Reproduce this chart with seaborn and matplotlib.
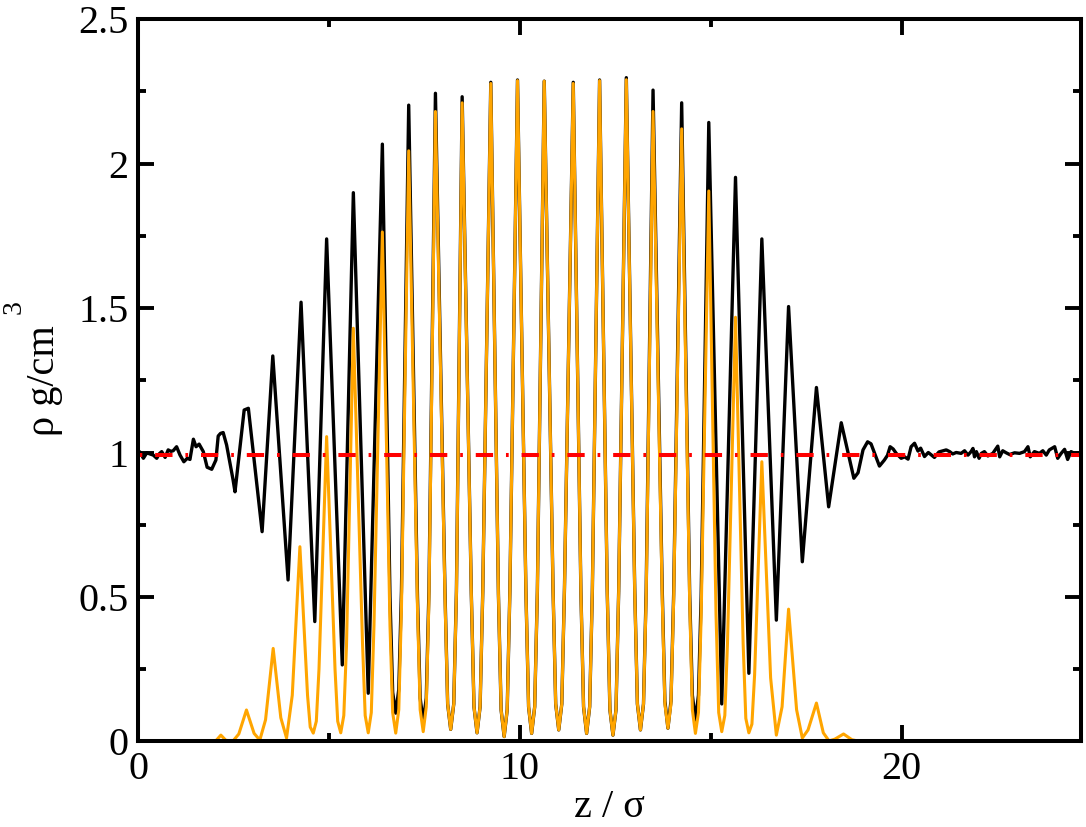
import pandas as pd
import seaborn as sns
import matplotlib.pyplot as plt
from matplotlib.ticker import MultipleLocator, FuncFormatter

# density profile across the slab
# total density (black)
black_left_z = [0.00, 0.05, 0.14, 0.23, 0.31, 0.40, 0.49, 0.56, 0.62, 0.71, 0.79,
                0.86, 0.92, 1.01, 1.10, 1.20, 1.29, 1.36, 1.45, 1.52, 1.60, 1.71]
black_left_rho = [1.000, 1.002, 0.980, 0.999, 0.995, 0.991, 0.980, 0.996, 1.003, 0.983, 1.009,
                  1.004, 1.006, 1.020, 0.991, 0.968, 0.980, 0.976, 1.046, 1.020, 1.029, 1.003]

black_layers_z = [1.81, 1.93, 2.04, 2.10, 2.16, 2.23, 2.32, 2.49, 2.54, 2.78, 2.89,
                  3.25, 3.53, 3.93, 4.27, 4.63, 4.94, 5.35, 5.64, 6.03, 6.40,
                  6.60, 6.67, 6.75, 6.83, 6.90, 7.09,
                  7.32, 7.39, 7.47, 7.55, 7.62, 7.79,
                  8.04, 8.11, 8.19, 8.27, 8.34, 8.49,
                  8.73, 8.80, 8.88, 8.96, 9.03, 9.24,
                  9.44, 9.51, 9.59, 9.67, 9.74, 9.94,
                  10.16, 10.23, 10.31, 10.39, 10.46, 10.64,
                  10.87, 10.94, 11.02, 11.10, 11.17, 11.40,
                  11.60, 11.67, 11.75, 11.83, 11.90, 12.09,
                  12.29, 12.36, 12.44, 12.52, 12.59, 12.79,
                  13.01, 13.08, 13.16, 13.24, 13.31, 13.49,
                  13.73, 13.80, 13.88, 13.96, 14.03, 14.24,
                  14.45, 14.52, 14.60, 14.68, 14.75, 14.95,
                  15.29, 15.65, 16.00, 16.34, 16.72, 17.04, 17.40, 17.77,
                  18.09, 18.42, 18.75, 18.86, 18.99, 19.11, 19.20, 19.42]
black_layers_rho = [0.949, 0.942, 0.974, 1.057, 1.066, 1.069, 1.026, 0.905, 0.864, 1.147, 1.153,
                    0.726, 1.334, 0.559, 1.520, 0.415, 1.739, 0.265, 1.899, 0.167, 2.067,
                    0.50, 0.17, 0.098, 0.18, 0.52, 2.202,
                    0.50, 0.15, 0.069, 0.15, 0.52, 2.243,
                    0.52, 0.13, 0.042, 0.13, 0.52, 2.231,
                    0.51, 0.12, 0.030, 0.12, 0.52, 2.281,
                    0.51, 0.11, 0.017, 0.11, 0.52, 2.289,
                    0.52, 0.12, 0.028, 0.12, 0.52, 2.285,
                    0.53, 0.13, 0.040, 0.13, 0.53, 2.281,
                    0.52, 0.12, 0.028, 0.12, 0.52, 2.289,
                    0.52, 0.11, 0.022, 0.11, 0.52, 2.297,
                    0.53, 0.13, 0.040, 0.13, 0.52, 2.254,
                    0.53, 0.14, 0.046, 0.14, 0.51, 2.210,
                    0.51, 0.16, 0.074, 0.16, 0.50, 2.142,
                    0.130, 1.952, 0.236, 1.739, 0.420, 1.505, 0.622, 1.225,
                    0.812, 1.103, 0.911, 0.930, 1.009, 1.037, 1.030, 0.953]

black_right_z = [19.55, 19.63, 19.70, 19.78, 19.86, 19.99, 20.08, 20.17, 20.25, 20.34,
                 20.43, 20.50, 20.60, 20.70, 20.86, 20.98, 21.17, 21.26, 21.34, 21.43,
                 21.56, 21.65, 21.74, 21.82, 21.87, 21.91, 21.96, 22.03, 22.09, 22.17,
                 22.26, 22.39, 22.52, 22.57, 22.65, 22.74, 22.83, 22.96, 23.09, 23.22,
                 23.31, 23.37, 23.48, 23.61, 23.70, 23.79, 23.87, 24.01, 24.09, 24.18,
                 24.27, 24.35, 24.44, 24.53, 24.62, 24.70]
black_right_rho = [0.974, 0.990, 1.020, 1.012, 0.997, 0.980, 0.985, 0.977, 1.020, 1.032,
                   1.005, 1.015, 0.986, 1.000, 0.983, 1.002, 1.009, 1.003, 0.995, 1.000,
                   0.997, 1.006, 0.991, 1.003, 1.014, 0.985, 1.003, 0.980, 0.997, 1.003,
                   0.988, 0.997, 1.022, 0.985, 1.006, 0.999, 0.993, 0.999, 0.997, 1.003,
                   1.020, 0.985, 1.003, 0.997, 1.006, 0.991, 1.009, 1.020, 0.980, 0.997,
                   1.011, 0.976, 1.003, 0.997, 0.999, 1.000]

# crystalline part (orange)
orange_z = [1.85, 2.05, 2.17, 2.30, 2.49, 2.64, 2.84, 3.04, 3.19, 3.34, 3.54, 3.74, 3.89, 4.04, 4.24,
            4.44, 4.51, 4.59, 4.67, 4.74, 4.94,
            5.16, 5.23, 5.31, 5.39, 5.46, 5.64,
            5.88, 5.95, 6.03, 6.11, 6.18, 6.40,
            6.60, 6.67, 6.75, 6.83, 6.90, 7.09,
            7.32, 7.39, 7.47, 7.55, 7.62, 7.79,
            8.04, 8.11, 8.19, 8.27, 8.34, 8.49,
            8.73, 8.80, 8.88, 8.96, 9.03, 9.24,
            9.44, 9.51, 9.59, 9.67, 9.74, 9.94,
            10.16, 10.23, 10.31, 10.39, 10.46, 10.64,
            10.87, 10.94, 11.02, 11.10, 11.17, 11.40,
            11.60, 11.67, 11.75, 11.83, 11.90, 12.09,
            12.29, 12.36, 12.44, 12.52, 12.59, 12.79,
            13.01, 13.08, 13.16, 13.24, 13.31, 13.49,
            13.73, 13.80, 13.88, 13.96, 14.03, 14.24,
            14.45, 14.52, 14.60, 14.68, 14.75, 14.95,
            15.14, 15.21, 15.29, 15.37, 15.44, 15.65,
            15.85, 15.92, 16.00, 16.08, 16.15, 16.34,
            16.57, 16.72, 16.87, 17.04, 17.25, 17.40, 17.55, 17.77,
            17.95, 18.10, 18.25, 18.48, 18.70, 18.85, 19.20]
orange_rho = [0.000, 0.004, 0.022, 0.004, 0.002, 0.026, 0.109, 0.028, 0.005, 0.075, 0.322, 0.082, 0.012, 0.160, 0.674,
              0.160, 0.05, 0.029, 0.07, 0.250, 1.055,
              0.250, 0.07, 0.030, 0.09, 0.330, 1.430,
              0.340, 0.09, 0.030, 0.10, 0.400, 1.763,
              0.400, 0.10, 0.029, 0.11, 0.460, 2.044,
              0.460, 0.11, 0.034, 0.12, 0.490, 2.180,
              0.500, 0.13, 0.042, 0.13, 0.510, 2.210,
              0.51, 0.12, 0.030, 0.12, 0.52, 2.277,
              0.51, 0.11, 0.017, 0.11, 0.52, 2.287,
              0.52, 0.12, 0.028, 0.12, 0.52, 2.285,
              0.53, 0.13, 0.040, 0.13, 0.53, 2.277,
              0.52, 0.12, 0.028, 0.12, 0.52, 2.287,
              0.52, 0.11, 0.022, 0.11, 0.52, 2.290,
              0.52, 0.13, 0.040, 0.13, 0.50, 2.180,
              0.50, 0.13, 0.046, 0.13, 0.49, 2.120,
              0.48, 0.11, 0.028, 0.10, 0.43, 1.905,
              0.44, 0.10, 0.034, 0.09, 0.34, 1.468,
              0.34, 0.08, 0.030, 0.06, 0.23, 0.968,
              0.22, 0.022, 0.12, 0.458, 0.11, 0.012, 0.04, 0.133,
              0.03, 0.002, 0.008, 0.026, 0.006, 0.002, 0.002]

ref_rho = 0.99  # bulk liquid density

black = pd.DataFrame({'z': black_left_z + black_layers_z + black_right_z,
                      'rho': black_left_rho + black_layers_rho + black_right_rho})
orange = pd.DataFrame({'z': orange_z, 'rho': orange_rho})

sns.set_style('ticks')
plt.rcParams['font.family'] = ['Liberation Serif', 'DejaVu Serif']
plt.rcParams.update({'axes.edgecolor': 'black', 'xtick.color': 'black', 'ytick.color': 'black',
                     'text.color': 'black', 'axes.labelcolor': 'black'})

fig = plt.figure(figsize=(10.86, 8.27), dpi=100)
ax = fig.add_axes([0.1271, 0.1034, 0.8683, 0.8736])

sns.lineplot(data=black, x='z', y='rho', color='black', lw=2.4, sort=False,
             estimator=None, ax=ax)
sns.lineplot(data=orange, x='z', y='rho', color='#FFA500', lw=2.2, sort=False,
             estimator=None, ax=ax)
ax.axhline(ref_rho, color='#FF0000', lw=2.9, linestyle=(7.1, (4.3, 3.2, 0.67, 3.2)))

ax.set_xlim(0, 24.7)
ax.set_ylim(0, 2.5)
ax.xaxis.set_major_locator(MultipleLocator(10))
ax.xaxis.set_minor_locator(MultipleLocator(5))
ax.yaxis.set_major_locator(MultipleLocator(0.5))
ax.yaxis.set_minor_locator(MultipleLocator(0.25))
fmt = FuncFormatter(lambda v, p: '%g' % v)
ax.xaxis.set_major_formatter(fmt)
ax.yaxis.set_major_formatter(fmt)

ax.tick_params(which='both', direction='in', top=True, right=True, width=2.8,
               labelsize=29, pad=7, colors='black')
ax.tick_params(which='major', length=11.5)
ax.tick_params(which='minor', length=6)
for s in ax.spines.values():
    s.set_linewidth(2.9)
    s.set_color('black')

ax.set_xlabel('z / σ', fontsize=29)
ax.xaxis.set_label_coords(0.5, -0.066)
ax.set_ylabel('ρ g/cm', fontsize=29)
ax.yaxis.set_label_coords(-0.0795, 0.5)
fig.text(14 / 1086, 1 - 307 / 827, '3', fontsize=20, rotation=90, ha='center', va='center')

fig.savefig('out.png', dpi=100)
